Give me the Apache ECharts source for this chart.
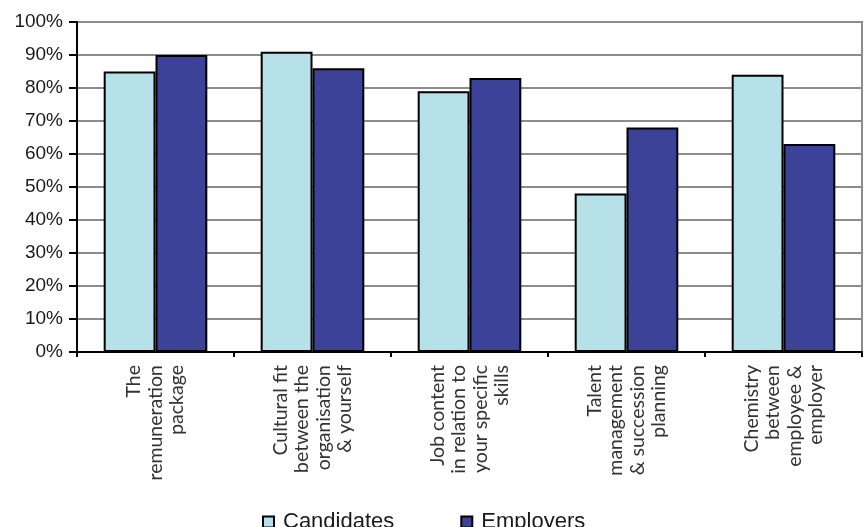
<!DOCTYPE html>
<html>
<head>
<meta charset="utf-8">
<script src="https://cdn.jsdelivr.net/npm/echarts@6/dist/echarts.min.js"></script>
<style>
  html, body { margin: 0; padding: 0; background: #fff; }
  #chart { width: 866px; height: 527px; }
</style>
</head>
<body>
<div id="chart"></div>
<script>
// Factors rated as important, candidates vs employers (%)
const categories = [
  'The\nremuneration\npackage',
  'Cultural fit\nbetween the\norganisation\n& yourself',
  'Job content\nin relation to\nyour specific\nskills',
  'Talent\nmanagement\n& succession\nplanning',
  'Chemistry\nbetween\nemployee &\nemployer'
];
const candidates = [85, 91, 79, 48, 84];
const employers = [90, 86, 83, 68, 63];
const yTicks = [0, 10, 20, 30, 40, 50, 60, 70, 80, 90, 100];

const chart = echarts.init(document.getElementById('chart'), null, { renderer: 'canvas' });

chart.setOption({
  animation: false,
  backgroundColor: '#ffffff',
  grid: {
    left: 77, right: 4, top: 22, bottom: 175,
    show: true, borderColor: '#8c8c8c', borderWidth: 2, backgroundColor: 'transparent'
  },
  legend: {
    top: 506,
    left: 257,
    padding: 5,
    itemWidth: 11,
    itemHeight: 11,
    itemGap: 66,
    icon: 'rect',
    textStyle: { fontFamily: 'Liberation Sans, Arial, sans-serif', fontSize: 22, color: '#1a1a1a', padding: [0, 0, 0, 4] },
    data: ['Candidates', 'Employers']
  },
  xAxis: {
    type: 'category',
    data: categories,
    axisLine: { show: true, lineStyle: { color: '#000', width: 2 } },
    axisTick: { show: true, length: 5, lineStyle: { color: '#000', width: 2 } },
    axisLabel: {
      rotate: 90,
      margin: 13,
      interval: 0,
      align: 'right',
      fontFamily: 'Lato, "Noto Sans", sans-serif',
      fontSize: 19.5,
      lineHeight: 21.5,
      color: '#333'
    }
  },
  yAxis: {
    type: 'value',
    min: 0,
    max: 100,
    interval: 10,
    axisLine: { show: true, lineStyle: { color: '#000', width: 2 } },
    axisTick: { show: true, length: 8, lineStyle: { color: '#000', width: 2 } },
    splitLine: { show: true, lineStyle: { color: '#8c8c8c', width: 2 } },
    axisLabel: {
      margin: 14,
      fontFamily: 'Liberation Sans, Arial, sans-serif',
      fontSize: 19,
      color: '#1a1a1a',
      formatter: function (v) { return yTicks.indexOf(v) >= 0 ? v + '%' : ''; }
    }
  },
  series: [
    {
      name: 'Candidates',
      type: 'bar',
      data: candidates,
      barGap: '0%',
      barCategoryGap: '34%',
      itemStyle: { color: '#b7e1e8', borderColor: '#000', borderWidth: 2 }
    },
    {
      name: 'Employers',
      type: 'bar',
      data: employers,
      itemStyle: { color: '#3d4299', borderColor: '#000', borderWidth: 2 }
    }
  ]
});
</script>
</body>
</html>
